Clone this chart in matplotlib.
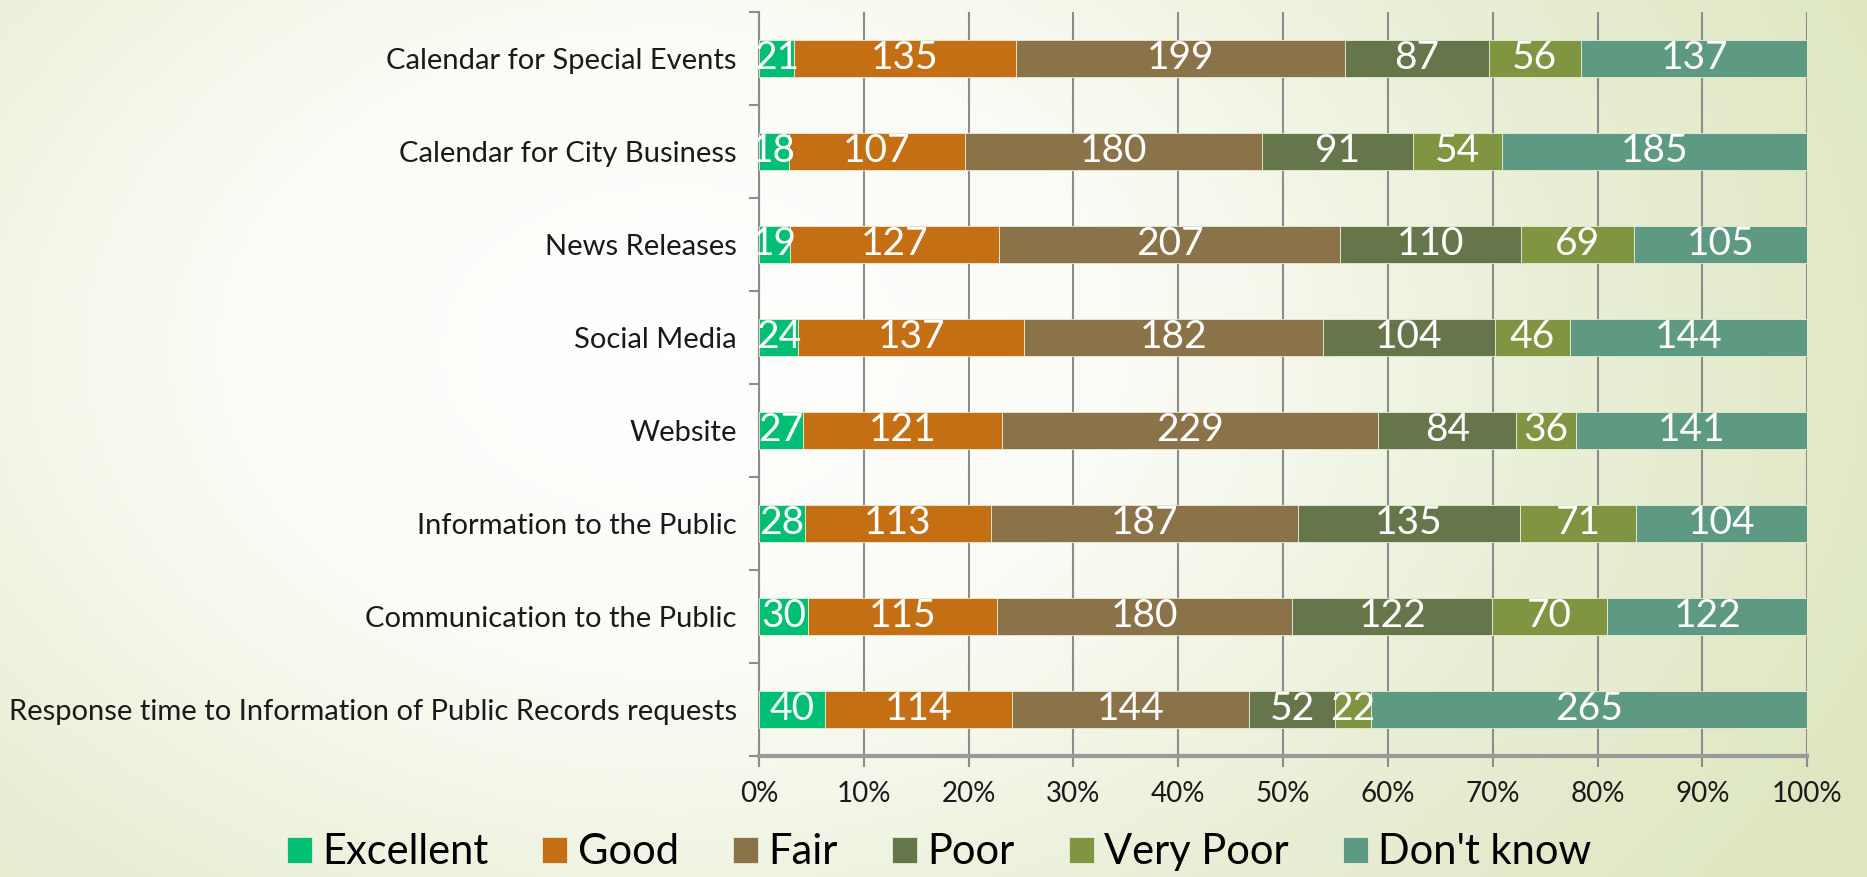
import numpy as np
import matplotlib
matplotlib.use("Agg")
import matplotlib.pyplot as plt
from matplotlib.colors import LinearSegmentedColormap

# datos de la encuesta (de arriba hacia abajo)
categorias = [
    "Calendar for Special Events",
    "Calendar for City Business",
    "News Releases",
    "Social Media",
    "Website",
    "Information to the Public",
    "Communication to the Public",
    "Response time to Information of Public Records requests",
]
excelente = [21, 18, 19, 24, 27, 28, 30, 40]
bueno = [135, 107, 127, 137, 121, 113, 115, 114]
regular = [199, 180, 207, 182, 229, 187, 180, 144]
malo = [87, 91, 110, 104, 84, 135, 122, 52]
muy_malo = [56, 54, 69, 46, 36, 71, 70, 22]
no_sabe = [137, 185, 105, 144, 141, 104, 122, 265]

series = ["Excellent", "Good", "Fair", "Poor", "Very Poor", "Don't know"]
colores = ["#00bf73", "#c56f15", "#8b7349", "#65764a", "#809542", "#5e9a81"]
ticks_x = [0, 10, 20, 30, 40, 50, 60, 70, 80, 90, 100]

plt.rcParams["font.family"] = ["Lato", "DejaVu Sans"]

fig = plt.figure(figsize=(18.67, 8.77), dpi=100)

# fondo degradado
fondo = fig.add_axes([0, 0, 1, 1], zorder=-10)
xx, yy = np.meshgrid(np.linspace(0, 1, 400), np.linspace(0, 1, 200))
d = np.sqrt(((xx - 0.36) / 0.72) ** 2 + ((yy - 0.6) / 1.1) ** 2)
cmap = LinearSegmentedColormap.from_list("bg", ["#ffffff", "#fbfcf6", "#e9efd6", "#dde6bf"])
fondo.imshow(np.clip(d, 0, 1), cmap=cmap, aspect="auto", extent=[0, 1, 0, 1], origin="lower")
fondo.axis("off")

ax = fig.add_axes([0.4065, 0.138, 0.5615, 0.8485])
ax.patch.set_alpha(0)

datos = np.array([excelente, bueno, regular, malo, muy_malo, no_sabe], dtype=float)
totales = datos.sum(axis=0)
pct = datos / totales * 100
y = np.arange(len(categorias))

izq = np.zeros(len(categorias))
for k in range(len(series)):
    barras = ax.barh(y, pct[k], left=izq, height=0.4, color=colores[k],
                     edgecolor="#e8ecd8", linewidth=0.6, label=series[k], zorder=3)
    ax.bar_label(barras, labels=[str(int(v)) for v in datos[k]], label_type="center",
                 color="white", fontsize=28, zorder=4)
    izq += pct[k]

ax.set_xlim(0, 100)
ax.set_ylim(len(categorias) - 0.5, -0.5)
ax.set_xticks(ticks_x)
ax.set_xticklabels([f"{t}%" for t in ticks_x], fontsize=20, color="#1a1a1a")
ax.set_yticks(y)
ax.set_yticklabels(categorias, fontsize=21, color="#1a1a1a")
ax.set_yticks(np.arange(-0.5, len(categorias)), minor=True)
ax.tick_params(axis="y", which="major", length=0, pad=16)
ax.tick_params(axis="y", which="minor", length=7, width=1.5, color="#8c8c8c", direction="out")
ax.tick_params(axis="x", length=8, width=1.5, color="#8c8c8c", pad=10)

ax.grid(axis="x", color="#8c8c8c", linewidth=1.5, zorder=0)
ax.set_axisbelow(True)
for s in ["top", "right"]:
    ax.spines[s].set_visible(False)
ax.spines["left"].set_color("#8c8c8c")
ax.spines["left"].set_linewidth(1.5)
ax.spines["bottom"].set_color("#9a9a9a")
ax.spines["bottom"].set_linewidth(3)

fig.legend(loc="center", bbox_to_anchor=(0.503, 0.028), ncol=6, frameon=False,
           fontsize=30, handlelength=0.6, handleheight=0.6, handletextpad=0.25,
           columnspacing=1.3)

fig.savefig("out.png", dpi=100)
